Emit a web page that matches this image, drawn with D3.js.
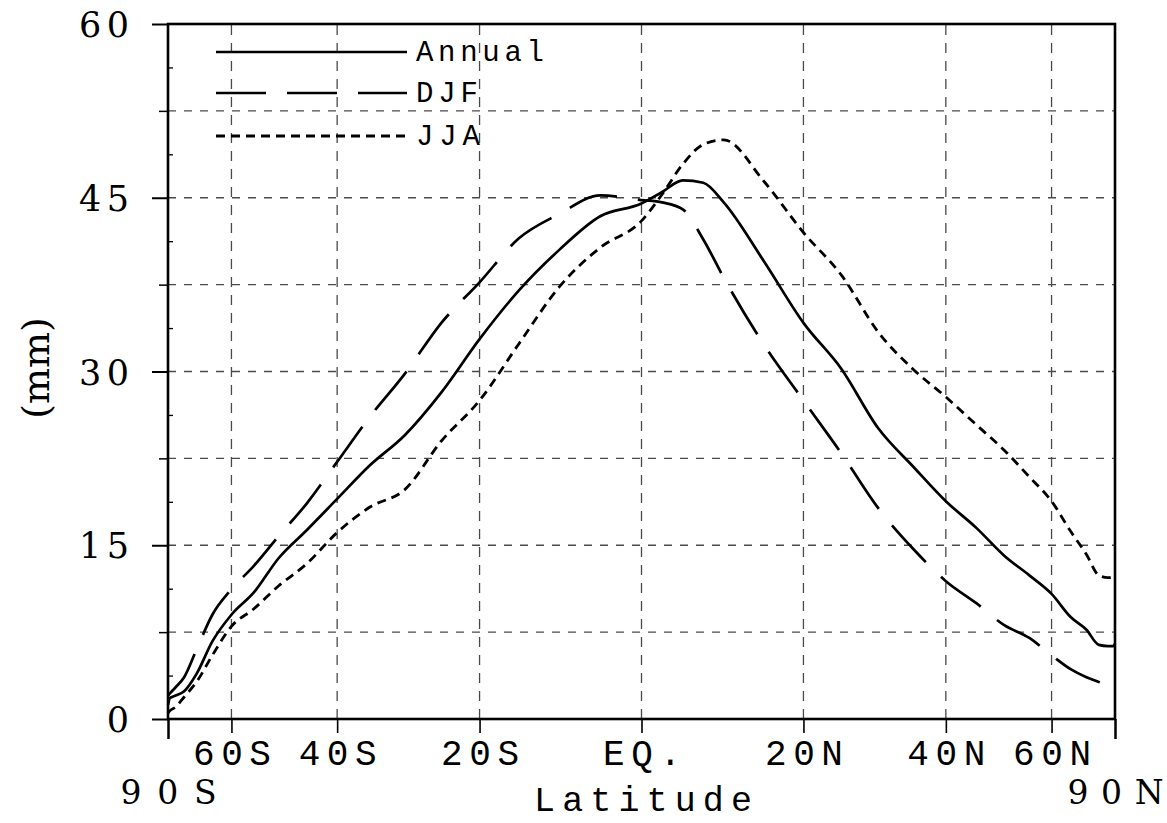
<!DOCTYPE html>
<html>
<head>
<meta charset="utf-8">
<script src="https://cdn.jsdelivr.net/npm/d3@7"></script>
<style>
  html, body { margin: 0; padding: 0; background: #fff; }
  svg text { fill: #000; }
</style>
</head>
<body>
<svg id="chart" width="1167" height="823"></svg>
<script>
// Zonal-mean precipitable water by latitude (mm)
const latitudes = [-90,-85,-80,-75,-70,-65,-60,-55,-50,-45,-40,-35,-30,-25,-20,-15,-10,-5,0,2.5,5,7.5,10,15,20,25,30,35,40,45,50,55,60,65,70,75,80,85,90];
const annual = [1.2,1.8,2.0,2.4,3.9,6.7,9.0,10.9,13.9,16.3,19.0,21.9,24.5,28.2,32.8,37.0,40.5,43.4,44.5,45.5,46.5,46.3,44.6,39.5,34.2,30.2,25.1,21.8,18.8,16.5,14.1,12.4,10.8,8.8,7.7,6.4,6.3,6.3,6.5];
const djf    = [2.0,2.2,2.7,3.6,6.0,9.0,11.2,13.2,15.8,18.6,22.2,26.1,29.8,34.2,37.7,41.5,43.6,45.2,44.8,44.6,44.0,41.4,38.1,32.3,27.5,22.9,18.2,14.7,11.9,10.0,8.1,7.0,5.5,4.3,3.6,3.2,2.9,2.9,3.0];
const jja    = [0.5,0.7,1.0,1.9,3.2,5.5,8.0,9.5,11.5,13.4,16.1,18.3,19.8,24.0,27.5,32.4,37.3,40.7,43.0,45.3,47.9,49.6,50.0,46.4,42.0,38.3,33.4,30.2,27.8,25.4,23.2,20.9,18.8,16.2,14.2,12.4,12.2,12.3,12.5];

const seriesNames = ["Annual", "DJF", "JJA"];
const latTicks = [-60,-40,-20,0,20,40,60];
const latTickLabels = ["60S","40S","20S","EQ.","20N","40N","60N"];
const poleLabels = ["90S","90N"];
const yTicks = [0,15,30,45,60];
const yGrid = [7.5,15,22.5,30,37.5,45,52.5];

const svg = d3.select("#chart");
const plotLeft = 168, plotRight = 1115, plotTop = 24, plotBottom = 719;
const serif = "'DejaVu Serif', 'Liberation Serif', serif";
const typewriter = "'Liberation Mono', 'DejaVu Sans Mono', monospace";

// x is linear in sin(latitude)
const xSin = d3.scaleLinear().domain([-1, 1]).range([plotLeft, plotRight]);
const rad = d => d * Math.PI / 180;
const xLat = lat => xSin(Math.sin(rad(lat)));
const y = d3.scaleLinear().domain([0, 60]).range([plotBottom, plotTop]);

// grid
const grid = svg.append("g").attr("stroke", "#4a4a4a").attr("stroke-width", 1.3).attr("fill", "none");
grid.selectAll("line.h").data(yGrid).join("line").attr("class", "h")
  .attr("x1", plotLeft).attr("x2", plotRight)
  .attr("y1", d => y(d)).attr("y2", d => y(d))
  .attr("stroke-dasharray", "8,8");
grid.selectAll("line.v").data(latTicks).join("line").attr("class", "v")
  .attr("x1", d => xLat(d)).attr("x2", d => xLat(d))
  .attr("y1", y(0)).attr("y2", y(60))
  .attr("stroke-dasharray", "10,8");

// y axis: major ticks with labels
const yAxis = svg.append("g").attr("transform", `translate(${plotLeft},0)`)
  .call(d3.axisLeft(y).tickValues(yTicks).tickSize(16).tickSizeOuter(0).tickPadding(23).tickFormat(d3.format("d")));
yAxis.select(".domain").remove();
yAxis.selectAll(".tick line").attr("stroke", "#000").attr("stroke-width", 2);
yAxis.selectAll(".tick text")
  .style("font-family", serif).style("font-size", "35px")
  .attr("dy", "0.36em")
  .attr("textLength", d => String(d).length === 1 ? 22 : 50)
  .attr("lengthAdjust", "spacing");

// y axis: minor ticks
const yMinor = svg.append("g").attr("transform", `translate(${plotLeft},0)`)
  .call(d3.axisLeft(y).tickValues(yGrid.filter(v => v % 15 !== 0)).tickSize(9).tickSizeOuter(0).tickFormat(""));
yMinor.select(".domain").remove();
yMinor.selectAll(".tick line").attr("stroke", "#000").attr("stroke-width", 1.5);
const yFine = svg.append("g").attr("transform", `translate(${plotLeft},0)`)
  .call(d3.axisLeft(y).tickValues(d3.range(3.75, 60, 7.5)).tickSize(-5).tickSizeOuter(0).tickFormat(""));
yFine.select(".domain").remove();
yFine.selectAll(".tick line").attr("stroke", "#000").attr("stroke-width", 1.3);

// x axis: latitude ticks
const latLabel = new Map(latTicks.map((d, i) => [Math.sin(rad(d)), latTickLabels[i]]));
const xAxis = svg.append("g").attr("transform", `translate(0,${plotBottom})`)
  .call(d3.axisBottom(xSin).tickValues(latTicks.map(d => Math.sin(rad(d))))
    .tickSize(14).tickSizeOuter(0).tickFormat(d => latLabel.get(d)));
xAxis.select(".domain").remove();
xAxis.selectAll(".tick line").attr("stroke", "#000").attr("stroke-width", 1.6);
xAxis.selectAll(".tick text")
  .style("font-family", typewriter).style("font-size", "36px")
  .attr("y", 46).attr("dy", 0)
  .attr("textLength", 78).attr("lengthAdjust", "spacing");

// x axis: pole ends
const poleAxis = svg.append("g").attr("transform", `translate(0,${plotBottom})`)
  .call(d3.axisBottom(xSin).tickValues([-1, 1]).tickSize(20).tickSizeOuter(0)
    .tickFormat((d, i) => poleLabels[i]));
poleAxis.select(".domain").remove();
poleAxis.selectAll(".tick line").attr("stroke", "#000").attr("stroke-width", 2.5);
poleAxis.selectAll(".tick text")
  .style("font-family", serif).style("font-size", "33px")
  .attr("y", 85).attr("dy", 0)
  .attr("textLength", 96).attr("lengthAdjust", "spacing");

// frame
svg.append("rect")
  .attr("x", plotLeft).attr("y", plotTop).attr("width", plotRight - plotLeft).attr("height", plotBottom - plotTop)
  .attr("fill", "none").attr("stroke", "#000").attr("stroke-width", 2.6);

// axis titles
svg.append("text").attr("x", 643).attr("y", 811).attr("text-anchor", "middle")
  .style("font-family", typewriter).style("font-size", "35px")
  .attr("textLength", 218).attr("lengthAdjust", "spacing")
  .text("Latitude");
svg.append("text").attr("transform", "translate(49,368) rotate(-90)")
  .attr("text-anchor", "middle")
  .style("font-family", serif).style("font-size", "38px")
  .text("(mm)");

// curves
const styles = {
  Annual: { dash: null, width: 2.7 },
  DJF:    { dash: "50,21", width: 2.7 },
  JJA:    { dash: "9,6", width: 2.8 }
};
const seriesData = [annual, djf, jja].map((vals, i) => ({
  name: seriesNames[i],
  points: latitudes.map((lat, j) => ({ lat, v: vals[j] }))
}));
const line = d3.line().x(d => xLat(d.lat)).y(d => y(d.v)).curve(d3.curveMonotoneX);
svg.append("g").selectAll("path").data(seriesData).join("path")
  .attr("d", d => line(d.points))
  .attr("fill", "none").attr("stroke", "#000")
  .attr("stroke-width", d => styles[d.name].width)
  .attr("stroke-dasharray", d => styles[d.name].dash)
  .attr("stroke-linejoin", "round");

// legend
const legendRows = [52, 93, 136];
const legendLen = { Annual: 128, DJF: 62, JJA: 64 };
const legend = svg.append("g").selectAll("g").data(seriesNames).join("g")
  .attr("transform", (d, i) => `translate(0,${legendRows[i]})`);
legend.append("line").attr("x1", 216).attr("x2", 407).attr("y1", 0).attr("y2", 0)
  .attr("stroke", "#000")
  .attr("stroke-width", d => styles[d].width)
  .attr("stroke-dasharray", d => styles[d].dash);
legend.append("text").attr("x", 416).attr("y", 9)
  .style("font-family", typewriter).style("font-size", "29px")
  .attr("textLength", d => legendLen[d]).attr("lengthAdjust", "spacing")
  .text(d => d);
</script>
</body>
</html>
